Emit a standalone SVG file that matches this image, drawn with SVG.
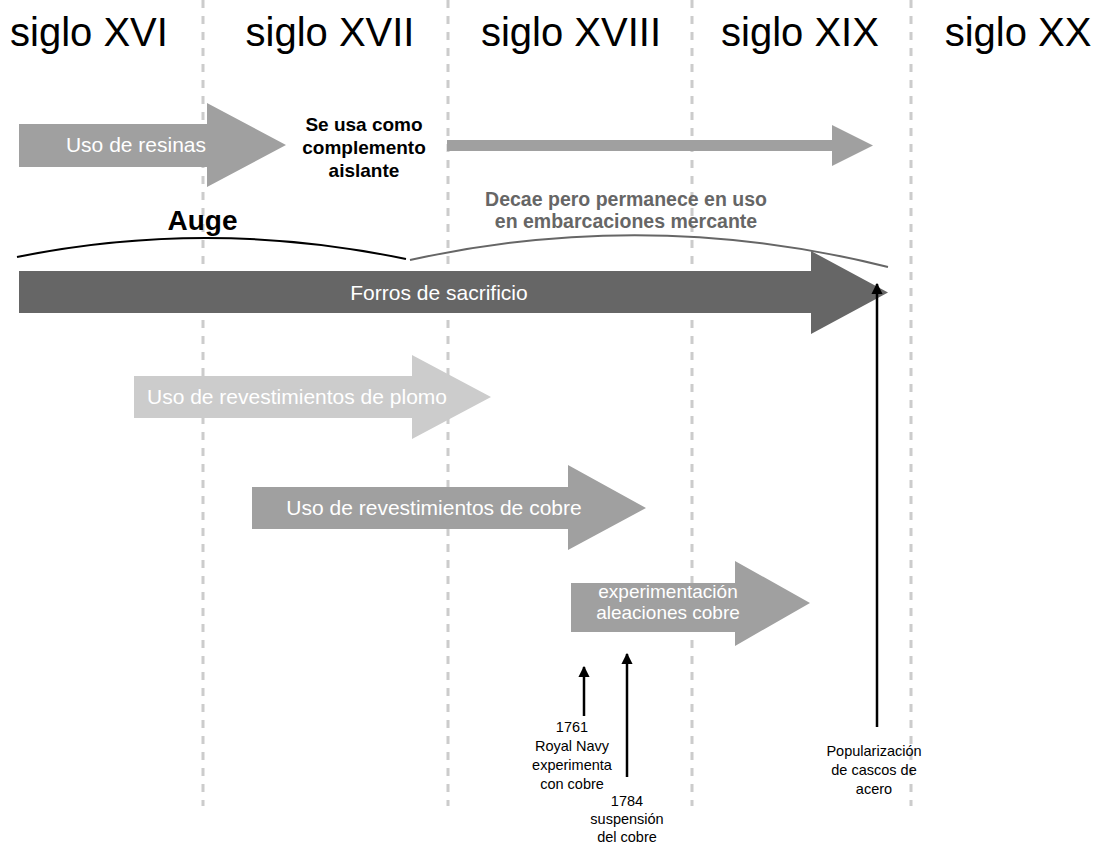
<svg xmlns="http://www.w3.org/2000/svg" width="1099" height="846" viewBox="0 0 1099 846">
<defs>
<style>
.hdr{font-family:"Liberation Sans",Arial,sans-serif;font-size:40px;fill:#000;text-anchor:middle}
.lbl{font-family:"Liberation Sans",Arial,sans-serif;font-size:21px;fill:#fff;text-anchor:middle}
.lbl.sm{font-size:19px}
.bold{font-family:"Liberation Sans",Arial,sans-serif;font-weight:bold;text-anchor:middle}
.small{font-family:"Liberation Sans",Arial,sans-serif;font-size:14.5px;fill:#000;text-anchor:middle}
.grid{stroke:#cccccc;stroke-width:3;stroke-dasharray:8 8;fill:none}
.ptr{stroke:#000;stroke-width:2.5;fill:none;marker-end:url(#ah)}
</style>
<marker id="ah" viewBox="0 0 10 10" refX="9" refY="5" markerWidth="4.5" markerHeight="4.5" orient="auto" markerUnits="strokeWidth">
<path d="M0,0 L10,5 L0,10 z" fill="#000"/>
</marker>
</defs>
<rect width="1099" height="846" fill="#fff"/>
<g id="grid">
<line class="grid" x1="203" y1="0" x2="203" y2="806"/>
<line class="grid" x1="448" y1="0" x2="448" y2="806"/>
<line class="grid" x1="692" y1="0" x2="692" y2="806"/>
<line class="grid" x1="911" y1="0" x2="911" y2="806"/>
</g>
<g id="headers">
<text class="hdr" x="89" y="46">siglo XVI</text>
<text class="hdr" x="330" y="46">siglo XVII</text>
<text class="hdr" x="571" y="46">siglo XVIII</text>
<text class="hdr" x="800" y="46">siglo XIX</text>
<text class="hdr" x="1018" y="46">siglo XX</text>
</g>
<g id="resinas">
<path d="M19,124 H207 V103 L286,145 L207,187 V167 H19 Z" fill="#a0a0a0"/>
<text class="lbl" x="136" y="152">Uso de resinas</text>
</g>
<g id="complemento">
<text class="bold" font-size="19" fill="#000"><tspan x="364" y="131">Se usa como</tspan><tspan x="364" y="154">complemento</tspan><tspan x="364" y="177">aislante</tspan></text>
</g>
<g id="resinas-cont">
<path d="M447,140 H832 V125 L873,145.5 L832,166 V151 H447 Z" fill="#a0a0a0"/>
</g>
<g id="decae">
<text class="bold" font-size="19.5" fill="#666"><tspan x="626" y="206">Decae pero permanece en uso</tspan><tspan x="626" y="228">en embarcaciones mercante</tspan></text>
</g>
<g id="auge">
<text class="bold" font-size="28" fill="#000" x="202.5" y="230">Auge</text>
<path d="M17,257 Q210,218 406,259" stroke="#000" stroke-width="2" fill="none"/>
<path d="M410,260 Q650,207 888,267" stroke="#666" stroke-width="2" fill="none"/>
</g>
<g id="forros">
<path d="M19,271 H811 V251 L888,292.5 L811,334 V313 H19 Z" fill="#666"/>
<text class="lbl" x="439" y="300">Forros de sacrificio</text>
</g>
<g id="plomo">
<path d="M134,376 H412 V355 L491,397 L412,439 V418 H134 Z" fill="#cccccc"/>
<text class="lbl" x="297" y="404">Uso de revestimientos de plomo</text>
</g>
<g id="cobre">
<path d="M252,487 H568 V465 L646,508 L568,550 V529 H252 Z" fill="#a0a0a0"/>
<text class="lbl" x="434" y="515">Uso de revestimientos de cobre</text>
</g>
<g id="aleaciones">
<path d="M571,583 H735 V561 L810,603 L735,646 V632 H571 Z" fill="#a0a0a0"/>
<text class="lbl sm"><tspan x="668" y="598">experimentación</tspan><tspan x="668" y="619">aleaciones cobre</tspan></text>
</g>
<g id="connectors">
<line class="ptr" x1="584" y1="716" x2="584" y2="667"/>
<line class="ptr" x1="627" y1="777" x2="627" y2="654"/>
<line class="ptr" x1="877" y1="727" x2="877" y2="284"/>
</g>
<g id="note-1761">
<text class="small"><tspan x="572" y="732">1761</tspan><tspan x="572" y="751">Royal Navy</tspan><tspan x="572" y="770">experimenta</tspan><tspan x="572" y="789">con cobre</tspan></text>
</g>
<g id="note-1784">
<text class="small"><tspan x="627" y="806">1784</tspan><tspan x="627" y="824">suspensión</tspan><tspan x="627" y="842">del cobre</tspan></text>
</g>
<g id="note-acero">
<text class="small"><tspan x="874" y="756">Popularización</tspan><tspan x="874" y="775">de cascos de</tspan><tspan x="874" y="794">acero</tspan></text>
</g>
</svg>
